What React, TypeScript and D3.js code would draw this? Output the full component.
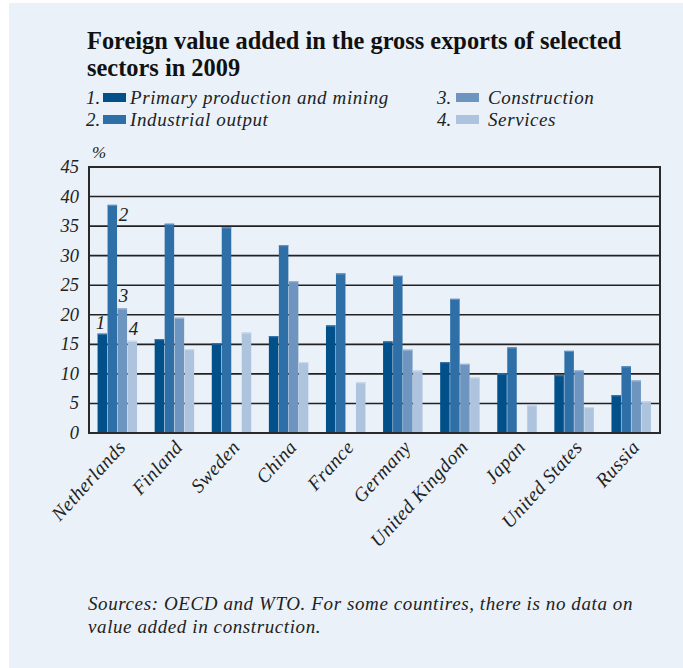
import React from "react";
import * as d3 from "d3";

const countries = ["Netherlands", "Finland", "Sweden", "China", "France", "Germany", "United Kingdom", "Japan", "United States", "Russia"];
const primary = [16.8, 15.9, 15.2, 16.4, 18.2, 15.5, 12.0, 10.1, 9.8, 6.4];
const industrial = [38.6, 35.4, 34.8, 31.8, 27.0, 26.6, 22.7, 14.5, 13.9, 11.3];
const construction: (number | null)[] = [21.1, 19.5, null, 25.7, null, 14.1, 11.7, null, 10.6, 8.9];
const services = [15.6, 14.2, 17.0, 12.0, 8.6, 10.6, 9.4, 4.7, 4.4, 5.4];
const seriesNames = ["Primary production and mining", "Industrial output", "Construction", "Services"];
const yTicks = [0, 5, 10, 15, 20, 25, 30, 35, 40, 45];

const colors = ["#02508a", "#2f6fa7", "#6e94c0", "#adc3de"];
const topColors = ["#3a76a8", "#5d93c4", "#9ab5d6", "#cbd9ea"];
const serif = "'Liberation Serif', serif";

export default function App() {
  const W = 683, H = 668;
  const left = 89, right = 660, top = 167, bottom = 433;
  const x = d3.scaleBand<string>().domain(countries).range([left, right]).paddingInner(0.3).paddingOuter(0.15);
  const y = d3.scaleLinear().domain([0, 45]).range([bottom, top]);
  const sub = d3.scaleBand<number>().domain([0, 1, 2, 3]).range([0, x.bandwidth()]);
  const series = [primary, industrial, construction, services];

  return (
    <svg width={W} height={H} style={{ position: "absolute", left: 0, top: 0 }}>
      <rect x={9} y={3} width={W - 9} height={H - 3} fill="#eaf1f8" />
      <text x={87} y={49} fontFamily={serif} fontWeight="bold" fontSize={24.4} fill="#111">Foreign value added in the gross exports of selected</text>
      <text x={87} y={76} fontFamily={serif} fontWeight="bold" fontSize={24.4} fill="#111">sectors in 2009</text>
      {seriesNames.map((n, i) => {
        const col = i < 2 ? 0 : 1;
        const row = i % 2;
        const bx = col === 0 ? 86 : 437;
        const by = 104 + row * 22;
        return (
          <g key={n}>
            <text x={bx} y={by} fontFamily={serif} fontStyle="italic" fontSize={19} fill="#222">{`${i + 1}.`}</text>
            <rect x={bx + (col === 0 ? 17 : 19)} y={by - 11} width={23} height={9} fill={colors[i]} />
            <text x={bx + (col === 0 ? 44 : 51)} y={by} fontFamily={serif} fontStyle="italic" fontSize={19} letterSpacing={0.6} fill="#222">{n}</text>
          </g>
        );
      })}
      <text x={92} y={158} fontFamily={serif} fontStyle="italic" fontSize={17} fill="#222">%</text>
      {yTicks.map((t) => (
        <g key={t}>
          {t > 0 && t < 45 && (
            <line x1={left} x2={right} y1={y(t)} y2={y(t)} stroke="#222" strokeWidth={1.6} />
          )}
          <text x={79} y={y(t) + 6} textAnchor="end" fontFamily={serif} fontStyle="italic" fontSize={18.5} fill="#222">{t}</text>
        </g>
      ))}
      {countries.map((c, ci) => (
        <g key={c}>
          {series.map((s, si) => {
            const v = s[ci];
            if (v == null) return null;
            const bx = (x(c) as number) + (sub(si) as number);
            return (
              <g key={si}>
                <rect x={bx} y={y(v)} width={sub.bandwidth() - 0.5} height={bottom - y(v)} fill={colors[si]} />
                <rect x={bx} y={y(v)} width={sub.bandwidth() - 0.5} height={1.2} fill={topColors[si]} />
              </g>
            );
          })}
          <text
            transform={`translate(${(x(c) as number) + x.bandwidth() / 2 + 9},${bottom + 15}) rotate(-48)`}
            textAnchor="end"
            fontFamily={serif}
            fontStyle="italic"
            fontSize={19.5}
            letterSpacing={0.4}
            fill="#222"
          >{c}</text>
        </g>
      ))}
      {[0, 1, 2, 3].map((si) => {
        const c = countries[0];
        const v = series[si][0] as number;
        const bx = (x(c) as number) + (sub(si) as number);
        const pos = [
          [bx + 3, y(v) - 5],
          [bx + sub.bandwidth() + 6, y(v) + 16],
          [bx + 6, y(v) - 6],
          [bx + 6, y(v) - 6],
        ][si];
        return (
          <text key={si} x={pos[0]} y={pos[1]} textAnchor="middle" fontFamily={serif} fontStyle="italic" fontSize={19} fill="#222">{si + 1}</text>
        );
      })}
      <rect x={left} y={top} width={right - left} height={bottom - top} fill="none" stroke="#2a2a2a" strokeWidth={2} />
      <text x={88} y={610} fontFamily={serif} fontStyle="italic" fontSize={19} letterSpacing={0.6} fill="#222">Sources: OECD and WTO. For some countires, there is no data on</text>
      <text x={88} y={633} fontFamily={serif} fontStyle="italic" fontSize={19} letterSpacing={0.6} fill="#222">value added in construction.</text>
    </svg>
  );
}
